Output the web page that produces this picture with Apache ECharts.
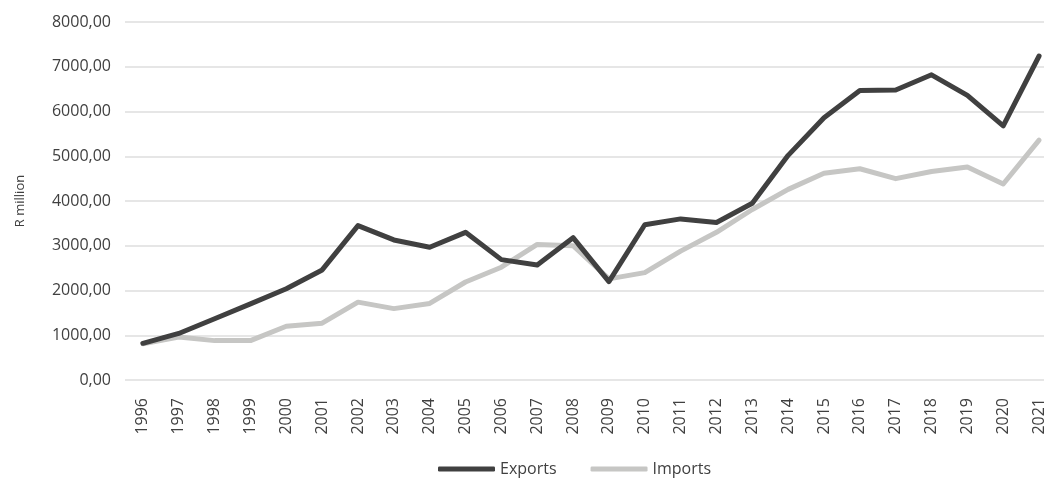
<!DOCTYPE html>
<html>
<head>
<meta charset="utf-8">
<script src="https://cdn.jsdelivr.net/npm/echarts@6/dist/echarts.min.js"></script>
<style>html,body{margin:0;padding:0;background:#fff}#c{width:1044px;height:478px}</style>
</head>
<body>
<div id="c"></div>
<script>
var years = ['1996','1997','1998','1999','2000','2001','2002','2003','2004','2005','2006','2007','2008','2009','2010','2011','2012','2013','2014','2015','2016','2017','2018','2019','2020','2021'];
var exportsVals = [820,1040,1370,1700,2040,2460,3450,3130,2965,3300,2690,2570,3180,2200,3470,3600,3520,3950,5020,5860,6470,6480,6820,6360,5680,7240];
var importsVals = [810,960,880,880,1200,1270,1740,1595,1710,2190,2520,3030,3000,2260,2400,2880,3300,3810,4260,4620,4720,4500,4660,4760,4380,5360];
var yTicks = {min:0, max:8000, interval:1000};
var yName = 'R million';

var chart = echarts.init(document.getElementById('c'));
var font = '"Open Sans", "Noto Sans", sans-serif';
chart.setOption({
  animation:false,
  grid:{left:125, width:932, top:22, bottom:98, containLabel:false, outerBoundsMode:'none'},
  legend:{
    top:456, left:433, itemWidth:57, itemHeight:5, itemGap:34,
    icon:'roundRect',
    textStyle:{fontFamily:font, fontSize:16, color:'#404040'},
    data:['Exports','Imports']
  },
  xAxis:{
    type:'category', data:years, boundaryGap:true,
    axisLine:{show:false}, axisTick:{show:false},
    axisLabel:{rotate:90, fontFamily:font, fontSize:16, color:'#404040', margin:18, interval:0}
  },
  yAxis:{
    type:'value', min:yTicks.min, max:yTicks.max, interval:yTicks.interval,
    name:yName, nameLocation:'middle', nameGap:98, nameRotate:90,
    nameTextStyle:{fontFamily:font, fontSize:13, color:'#404040'},
    axisLine:{show:false}, axisTick:{show:false},
    splitLine:{lineStyle:{color:'#dedede', width:1.5}},
    axisLabel:{fontFamily:font, fontSize:16, color:'#404040', margin:14,
      formatter:function(v){return v.toFixed(2).replace('.',',');}}
  },
  series:[
    {name:'Exports', type:'line', data:exportsVals, symbol:'none', z:3,
     lineStyle:{color:'#404040', width:5, cap:'round', join:'round'}, itemStyle:{color:'#404040'}},
    {name:'Imports', type:'line', data:importsVals, symbol:'none', z:2,
     lineStyle:{color:'#c6c6c4', width:5, cap:'round', join:'round'}, itemStyle:{color:'#c6c6c4'}}
  ]
});
</script>
</body>
</html>
